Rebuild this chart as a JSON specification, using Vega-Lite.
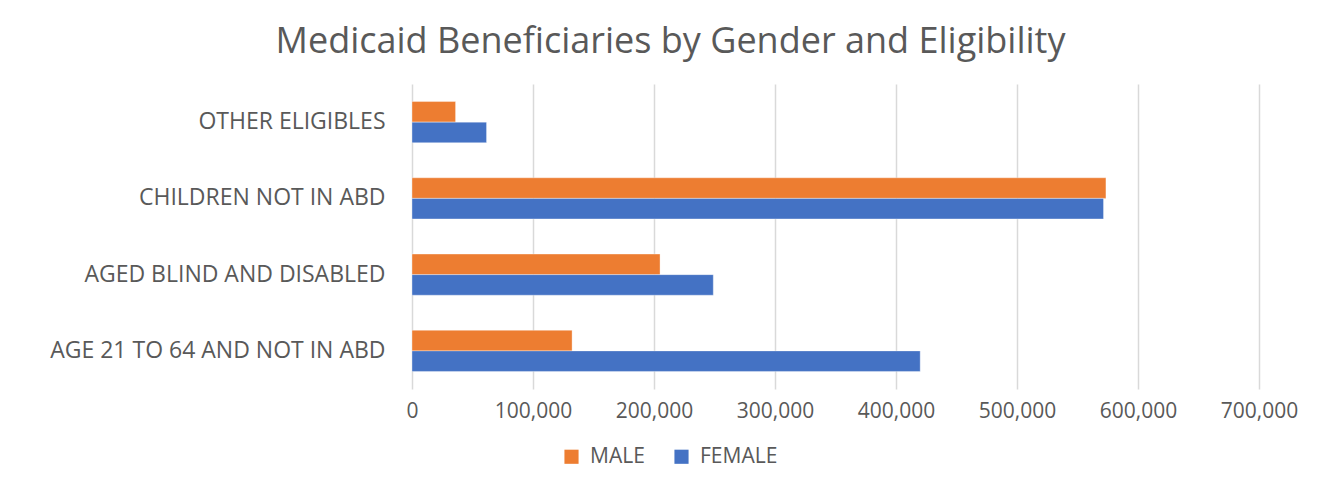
{
  "$schema": "https://vega.github.io/schema/vega-lite/v6.json",
  "autosize": {"type": "none"},
  "width": 847,
  "height": 305,
  "padding": {"left": 412, "top": 84, "right": 60, "bottom": 92},
  "background": "white",
  "title": {
    "text": "Medicaid Beneficiaries by Gender and Eligibility",
    "font": "Open Sans",
    "fontSize": 36,
    "fontWeight": "normal",
    "color": "#595959",
    "anchor": "middle",
    "dx": -165,
    "offset": 23
  },
  "data": {
    "values": [
      {"category": "OTHER ELIGIBLES", "gender": "MALE", "count": 36000},
      {"category": "OTHER ELIGIBLES", "gender": "FEMALE", "count": 61600},
      {"category": "CHILDREN NOT IN ABD", "gender": "MALE", "count": 573500},
      {"category": "CHILDREN NOT IN ABD", "gender": "FEMALE", "count": 571500},
      {"category": "AGED BLIND AND DISABLED", "gender": "MALE", "count": 205000},
      {"category": "AGED BLIND AND DISABLED", "gender": "FEMALE", "count": 249000},
      {"category": "AGE 21 TO 64 AND NOT IN ABD", "gender": "MALE", "count": 132300},
      {"category": "AGE 21 TO 64 AND NOT IN ABD", "gender": "FEMALE", "count": 420000}
    ]
  },
  "mark": {"type": "bar", "stroke": "white", "strokeOpacity": 0.35, "strokeWidth": 1},
  "encoding": {
    "y": {
      "field": "category",
      "type": "nominal",
      "sort": ["OTHER ELIGIBLES", "CHILDREN NOT IN ABD", "AGED BLIND AND DISABLED", "AGE 21 TO 64 AND NOT IN ABD"],
      "scale": {"paddingInner": 0.46, "paddingOuter": 0.23},
      "axis": {
        "title": null,
        "domain": false,
        "ticks": false,
        "labelPadding": 27,
        "labelFont": "Open Sans",
        "labelFontSize": 23,
        "labelColor": "#595959",
        "labelLimit": 400
      }
    },
    "yOffset": {
      "field": "gender",
      "type": "nominal",
      "sort": ["MALE", "FEMALE"],
      "scale": {"paddingInner": 0, "paddingOuter": 0}
    },
    "x": {
      "field": "count",
      "type": "quantitative",
      "scale": {"domain": [0, 700000], "nice": false},
      "axis": {
        "title": null,
        "values": [0, 100000, 200000, 300000, 400000, 500000, 600000, 700000],
        "format": ",d",
        "domain": false,
        "ticks": false,
        "grid": true,
        "gridColor": "#d9d9d9",
        "gridWidth": 1.5,
        "labelFlush": false,
        "labelPadding": 11,
        "labelFont": "Open Sans",
        "labelFontSize": 21,
        "labelColor": "#595959"
      }
    },
    "color": {
      "field": "gender",
      "type": "nominal",
      "sort": ["MALE", "FEMALE"],
      "scale": {"domain": ["MALE", "FEMALE"], "range": ["#ED7D31", "#4472C4"]},
      "legend": {
        "title": null,
        "orient": "none",
        "direction": "horizontal",
        "legendX": 149,
        "legendY": 362,
        "symbolType": "square",
        "symbolSize": 200,
        "symbolStrokeWidth": 0,
        "labelFont": "Open Sans",
        "labelFontSize": 21,
        "labelColor": "#595959",
        "columnPadding": 26,
        "labelOffset": 8
      }
    }
  },
  "config": {
    "view": {"stroke": null}
  }
}
